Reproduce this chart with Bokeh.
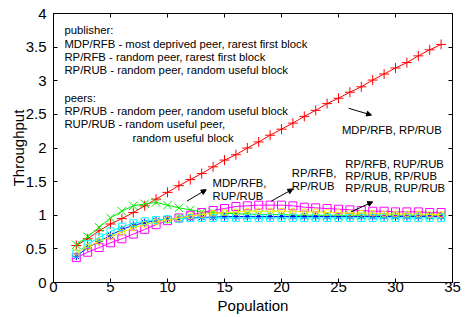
from bokeh.plotting import figure
from bokeh.models import (Range1d, LinearAxis, FixedTicker, NumeralTickFormatter,
                          CustomJSTickFormatter, Label, Arrow, NormalHead)
from bokeh.embed import file_html
from bokeh.resources import INLINE

# ---------------- data ----------------
population = list(range(2, 35))

# red  (+)  publisher MDP/RFB, peers RP/RUB
mdp_rfb__rp_rub = [0.55, 0.65, 0.77, 0.87, 0.95, 1.04, 1.14, 1.24, 1.34, 1.44, 1.53,
                   1.62, 1.72, 1.82, 1.90, 2.00, 2.09, 2.19, 2.28, 2.37, 2.47, 2.56,
                   2.66, 2.74, 2.83, 2.91, 3.01, 3.10, 3.19, 3.27, 3.37, 3.46, 3.54]
# green (x) publisher MDP/RFB, peers RUP/RUB
mdp_rfb__rup_rub = [0.56, 0.68, 0.82, 0.96, 1.06, 1.14, 1.17, 1.19, 1.15, 1.11, 1.08,
                    1.05, 1.04, 1.03, 1.02, 1.02, 1.01, 1.01, 1.01, 1.00, 1.00, 1.00,
                    1.00, 1.00, 1.00, 1.00, 1.00, 1.00, 1.00, 1.00, 1.00, 1.00, 1.00]
# blue (*) publisher RP/RUB, peers RP/RUB
rp_rub__rp_rub = [0.39, 0.52, 0.61, 0.70, 0.79, 0.85, 0.89, 0.92, 0.94, 0.95, 0.96,
                  0.97, 0.97, 0.98, 0.98, 0.98, 0.98, 0.98, 0.98, 0.98, 0.98, 0.98,
                  0.98, 0.98, 0.98, 0.98, 0.98, 0.98, 0.98, 0.98, 0.98, 0.98, 0.98]
# magenta (square) publisher RP/RFB, peers RP/RUB
rp_rfb__rp_rub = [0.37, 0.45, 0.52, 0.59, 0.65, 0.72, 0.79, 0.86, 0.92, 0.96, 1.00,
                  1.04, 1.07, 1.10, 1.13, 1.14, 1.15, 1.15, 1.15, 1.14, 1.12, 1.11,
                  1.10, 1.09, 1.08, 1.07, 1.06, 1.06, 1.05, 1.05, 1.05, 1.04, 1.04]
# cyan (square) publisher RP/RUB, peers RUP/RUB
rp_rub__rup_rub = [0.43, 0.57, 0.67, 0.76, 0.83, 0.88, 0.91, 0.93, 0.94, 0.95, 0.96,
                   0.96, 0.96, 0.96, 0.96, 0.96, 0.96, 0.96, 0.96, 0.96, 0.96, 0.96,
                   0.96, 0.96, 0.96, 0.96, 0.96, 0.96, 0.96, 0.96, 0.96, 0.96, 0.96]
# yellow (circle) publisher RP/RFB, peers RUP/RUB
rp_rfb__rup_rub = [0.45, 0.53, 0.61, 0.68, 0.75, 0.81, 0.86, 0.90, 0.93, 0.96, 0.99,
                   1.01, 1.03, 1.04, 1.05, 1.06, 1.06, 1.06, 1.06, 1.06, 1.05, 1.05,
                   1.04, 1.04, 1.03, 1.03, 1.03, 1.02, 1.02, 1.02, 1.02, 1.01, 1.01]

x_ticks = [0, 5, 10, 15, 20, 25, 30, 35]
y_ticks = [0, 0.5, 1, 1.5, 2, 2.5, 3, 3.5, 4]

legend_lines = ["publisher:",
                "MDP/RFB - most deprived peer, rarest first block",
                "RP/RFB - random peer, rarest first block",
                "RP/RUB - random peer, random useful block",
                "peers:",
                "RP/RUB - random peer, random useful block",
                "RUP/RUB - random useful peer,",
                "random useful block"]

FONT = "Liberation Sans"

# ---------------- figure ----------------
p = figure(width=465, height=317, output_backend="svg", toolbar_location=None,
           x_range=Range1d(0, 35), y_range=Range1d(0, 4),
           min_border_left=53, min_border_right=13, min_border_top=13,
           min_border_bottom=35, x_axis_label="Population", y_axis_label="Throughput")
p.xgrid.visible = False
p.ygrid.visible = False
p.outline_line_color = "black"
p.outline_line_alpha = 1.0
p.background_fill_color = "white"
p.border_fill_color = "white"

p.xaxis.ticker = FixedTicker(ticks=x_ticks)
p.yaxis.ticker = FixedTicker(ticks=y_ticks)
p.yaxis.formatter = NumeralTickFormatter(format="0.[0]")
for ax in (p.xaxis[0], p.yaxis[0]):
    ax.major_tick_in = 4
    ax.major_tick_out = 0
    ax.minor_tick_in = 0
    ax.minor_tick_out = 0
    ax.axis_line_color = "black"
    ax.major_tick_line_color = "black"
    ax.major_label_text_font = FONT
    ax.major_label_text_font_size = "15px"
    ax.major_label_text_color = "black"
    ax.axis_label_text_font = FONT
    ax.axis_label_text_font_size = "15px"
    ax.axis_label_text_font_style = "normal"
    ax.axis_label_text_color = "black"
p.xaxis.major_label_standoff = -1
p.xaxis.axis_label_standoff = 2
p.yaxis.major_label_standoff = 7
p.yaxis.axis_label_standoff = -4

# mirrored ticks on top and right (no labels)
for loc, tk in (("above", x_ticks), ("right", y_ticks)):
    ax = LinearAxis(ticker=FixedTicker(ticks=tk), major_tick_in=4, major_tick_out=0,
                    minor_tick_in=0, minor_tick_out=0,
                    formatter=CustomJSTickFormatter(code="return '';"),
                    major_label_standoff=0, axis_line_color="black")
    p.add_layout(ax, loc)

# ---------------- series ----------------
def series(y, color, marker, size):
    p.line(population, y, line_color=color, line_width=1)
    p.scatter(population, y, marker=marker, size=size, line_color=color,
              fill_color=None, line_width=1)

series(mdp_rfb__rp_rub, "#ff0000", "cross", 10)
series(mdp_rfb__rup_rub, "#00ee00", "x", 12)
series(rp_rub__rp_rub, "#0000ff", "asterisk", 8)
series(rp_rfb__rp_rub, "#ff00ff", "square", 8)
series(rp_rub__rup_rub, "#00ffff", "square", 7)
series(rp_rfb__rup_rub, "#eeee00", "circle", 6)

# ---------------- annotations ----------------
legend_y = [3.75, 3.54, 3.35, 3.16, 2.74, 2.55, 2.36, 2.15]
legend_x = [0.96, 0.96, 0.96, 0.96, 0.96, 0.96, 0.96, 6.93]
for t, lx, ly in zip(legend_lines, legend_x, legend_y):
    p.add_layout(Label(x=lx, y=ly, text=t, text_font=FONT, text_font_size="11.3px",
                       text_baseline="middle", text_color="black"))

notes = [("MDP/RFB, RP/RUB", 25.3, 2.27),
         ("MDP/RFB,", 13.95, 1.48),
         ("RUP/RUB", 13.95, 1.29),
         ("RP/RFB,", 20.9, 1.63),
         ("RP/RUB", 20.9, 1.44),
         ("RP/RFB, RUP/RUB", 25.6, 1.76),
         ("RP/RUB, RP/RUB", 25.6, 1.59),
         ("RP/RUB, RUP/RUB", 25.6, 1.41)]
for t, lx, ly in notes:
    p.add_layout(Label(x=lx, y=ly, text=t, text_font=FONT, text_font_size="11.3px",
                       text_baseline="middle", text_color="black"))

arrows = [(25.9, 2.59, 27.9, 2.49),
          (11.7, 1.21, 13.4, 1.38),
          (19.1, 1.21, 21.0, 1.39),
          (26.1, 1.05, 28.0, 1.20)]
for xs, ys, xe, ye in arrows:
    p.add_layout(Arrow(end=NormalHead(size=5, fill_color="black", line_color="black",
                                      line_width=1),
                       x_start=xs, y_start=ys, x_end=xe, y_end=ye,
                       line_color="black", line_width=1))

open("out.html", "w").write(file_html(p, INLINE))
